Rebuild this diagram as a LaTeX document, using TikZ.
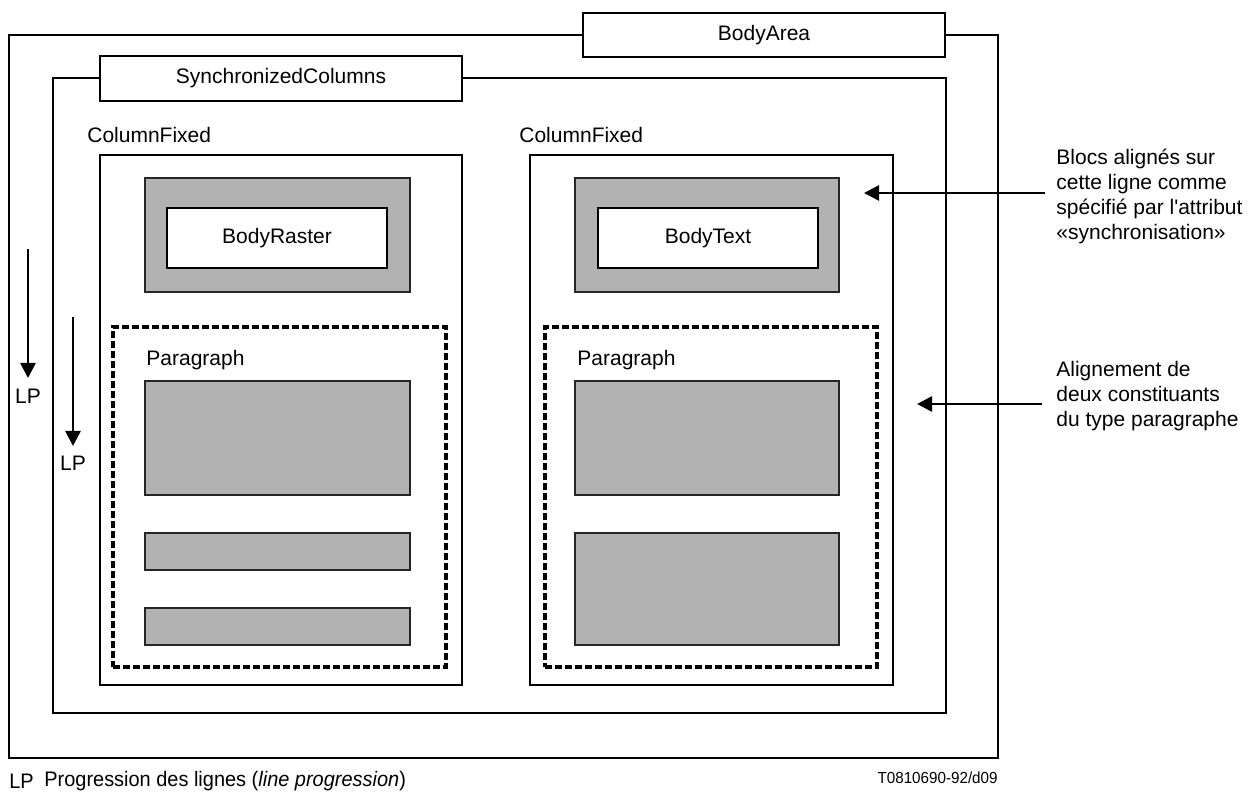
\documentclass[tikz,border=0pt]{standalone}
\usepackage{fontspec}
\setmainfont{Liberation Sans}[Ligatures=TeXOff]
\newfontfamily\narrowfont{Liberation Sans}[FakeStretch=0.95]
\usetikzlibrary{arrows.meta,fit}
\definecolor{boxgray}{RGB}{178,178,178}
\newcommand{\mainsize}{\fontsize{10.5}{12.4}\selectfont}
\begin{document}
\begin{tikzpicture}[x=0.5pt,y=-0.5pt,
  frame/.style={draw, line width=0.65pt, inner sep=0pt},
  tab/.style={frame, fill=white},
  shaded/.style={draw=black!85, fill=boxgray, line width=0.8pt, inner sep=0pt},
  inset/.style={frame, fill=white},
  paraframe/.style={draw, line width=1.7pt, dash pattern=on 3.6pt off 1.4pt, inner sep=0pt},
  lbl/.style={font=\mainsize, inner sep=0pt},
  note/.style={font=\mainsize, inner sep=0pt, align=left},
  pointer/.style={-{Triangle[length=7.5pt,width=7.5pt]}, line width=1.3pt},
]
\useasboundingbox (0,0) rectangle (1251,795);

% BodyArea
\node[frame, fit={(9,35) (998,758)}] (bodyarea) {};
\node[tab, fit={(583,13) (945,57)}] (bodyareaTab) {};
\node[lbl] (bodyareaLbl) at (bodyareaTab.center) {BodyArea};

% SynchronizedColumns
\node[frame, fit={(53,78) (946,713)}] (sync) {};
\node[tab, fit={(100,56) (462,101)}] (syncTab) {};
\node[lbl] (syncLbl) at (syncTab.center) {SynchronizedColumns};

% left column
\node[lbl, anchor=west] (colLlbl) at (87,135) {ColumnFixed};
\node[frame, fit={(100,155) (462,685)}] (colL) {};
\node[shaded, fit={(145,178) (410,292)}] (rasterBlk) {};
\node[inset, fit={(167,208) (387,268)}] (raster) {};
\node[lbl] (rasterLbl) at (raster.center) {BodyRaster};
\node[paraframe, fit={(113,327) (446,667)}] (paraL) {};
\node[lbl, anchor=west] (paraLlbl) at (146,360) {Paragraph};
\node[shaded, fit={(145,381) (410,495)}] (L1) {};
\node[shaded, fit={(145,533) (410,570)}] (L2) {};
\node[shaded, fit={(145,608) (410,645)}] (L3) {};

% right column
\node[lbl, anchor=west] (colRlbl) at (519,135) {ColumnFixed};
\node[frame, fit={(530,155) (893,685)}] (colR) {};
\node[shaded, fit={(575,178) (839,292)}] (textBlk) {};
\node[inset, fit={(598,208) (818,268)}] (text) {};
\node[lbl] (textLbl) at (text.center) {BodyText};
\node[paraframe, fit={(545,327) (877,667)}] (paraR) {};
\node[lbl, anchor=west] (paraRlbl) at (577,360) {Paragraph};
\node[shaded, fit={(575,381) (839,495)}] (R1) {};
\node[shaded, fit={(575,533) (839,645)}] (R2) {};

% line progression arrows
\coordinate (lpAstart) at (28,249);
\coordinate (lpAend) at (28,378);
\node[lbl] (lpA) at (28,396) {LP};
\draw[pointer] (lpAstart) -- (lpAend);
\coordinate (lpBstart) at (73,317);
\coordinate (lpBend) at (73,446);
\node[lbl] (lpB) at (73,463) {LP};
\draw[pointer] (lpBstart) -- (lpBend);

% annotations
\node[note, anchor=north west] (noteSync) at (1056,149)
  {Blocs alignés sur\\cette ligne comme\\spécifié par l'attribut\\«synchronisation»};
\node[note, anchor=north west] (notePara) at (1056,361)
  {Alignement de\\deux constituants\\du type paragraphe};
\coordinate (syncFrom) at (1045,193);
\coordinate (syncTo) at (864,193);
\draw[pointer] (syncFrom) -- (syncTo);
\coordinate (paraFrom) at (1042,404);
\coordinate (paraTo) at (917,404);
\draw[pointer] (paraFrom) -- (paraTo);

% legend
\node[lbl, anchor=west, font=\narrowfont\mainsize] (legLP) at (9,781) {LP};
\node[lbl, anchor=west, font=\narrowfont\mainsize] (legText) at (44,781)
  {Progression des lignes (\textit{line progression})};
\node[lbl, anchor=east, font=\narrowfont\fontsize{8}{9.6}\selectfont] (ref) at (998,778)
  {T0810690-92/d09};
\end{tikzpicture}
\end{document}
